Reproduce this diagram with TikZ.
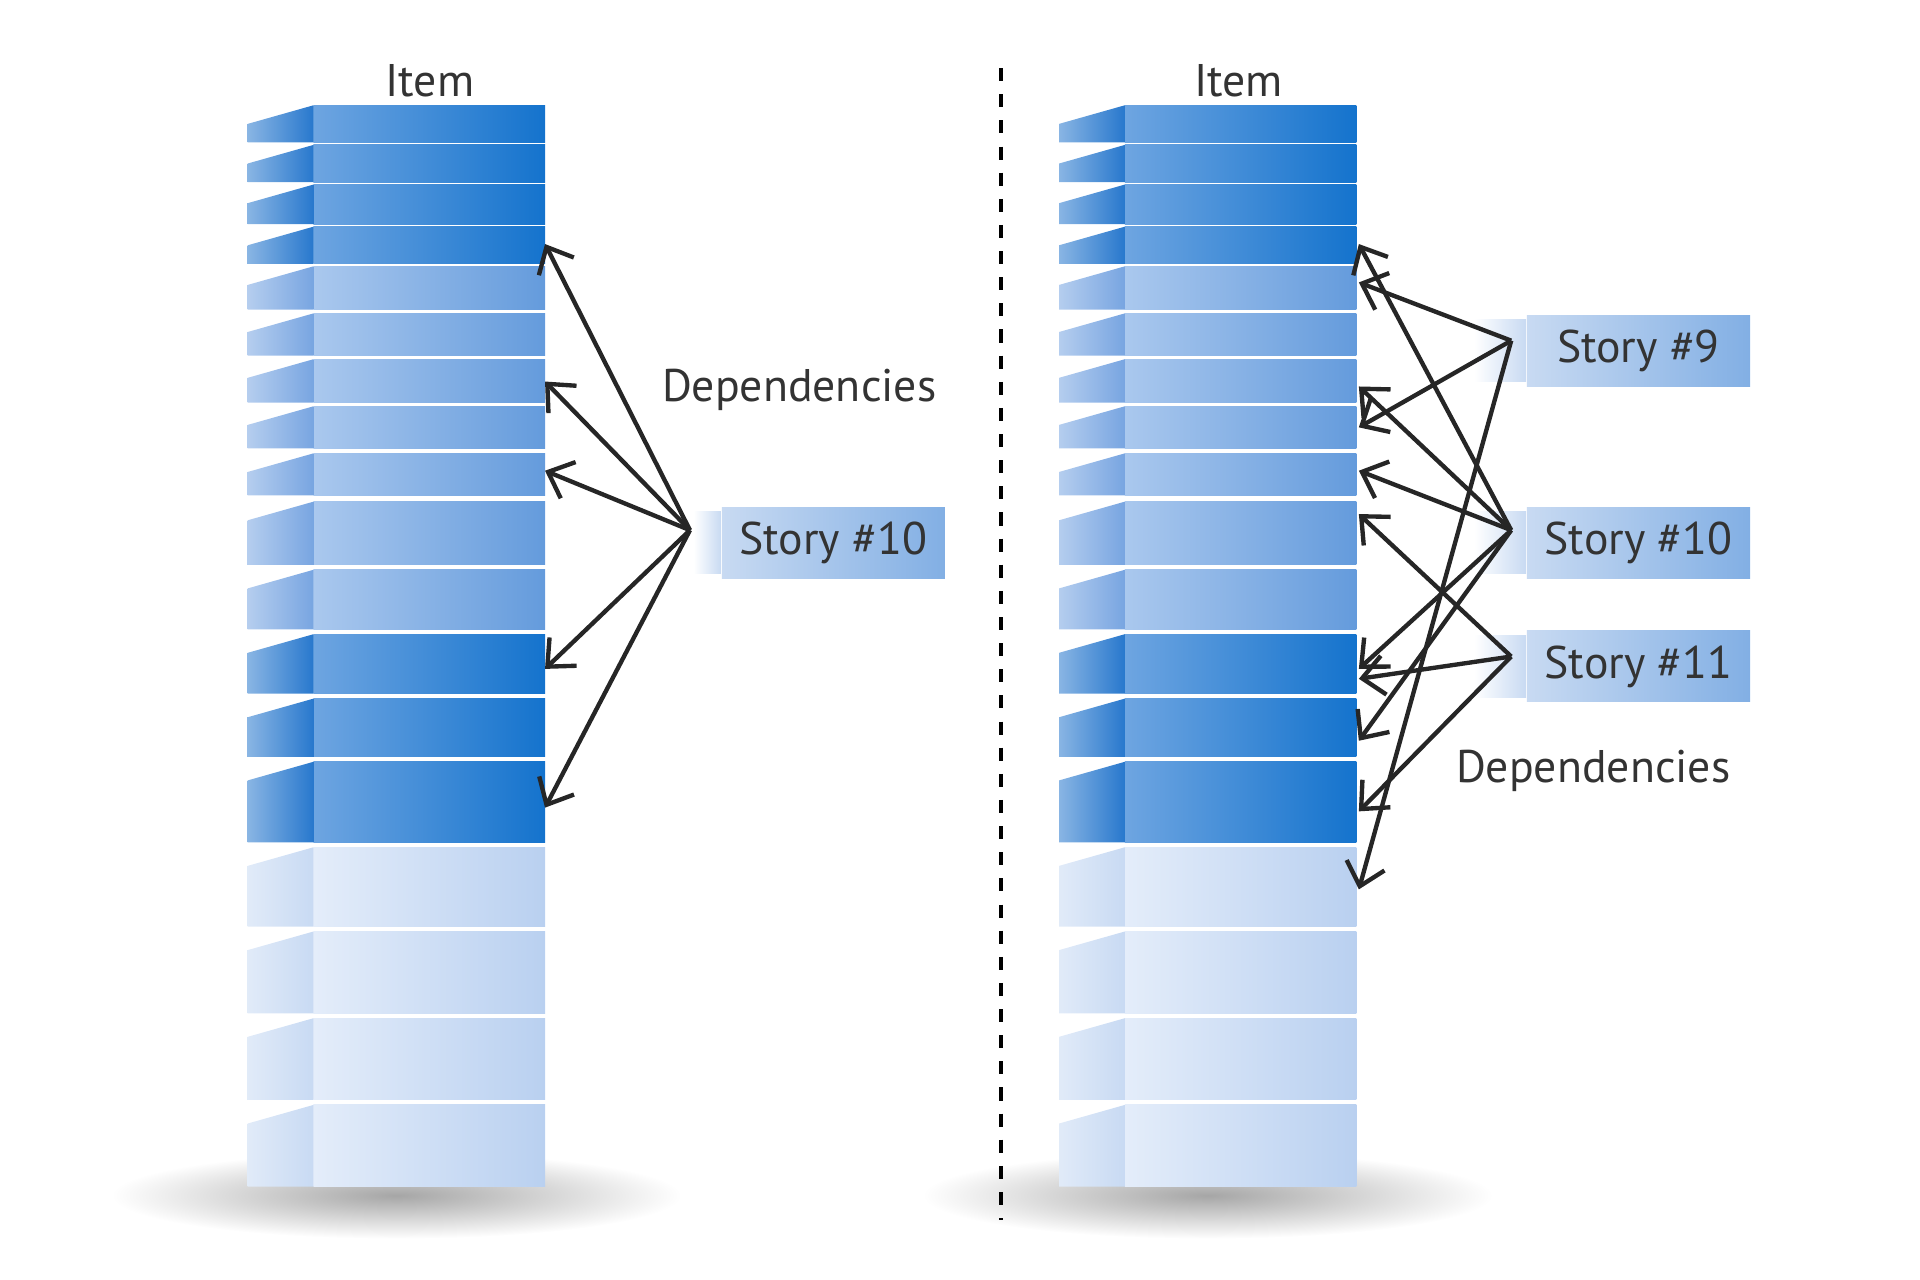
\documentclass[tikz,border=0pt]{standalone}
\usepackage{fontspec}
\setmainfont{PT Sans}
\usetikzlibrary{arrows.meta, positioning}
\definecolor{dkL}{RGB}{110,165,225}
\definecolor{dkR}{RGB}{20,115,205}
\definecolor{dkS}{RGB}{40,120,205}
\definecolor{mdL}{RGB}{170,200,238}
\definecolor{mdR}{RGB}{100,155,220}
\definecolor{mdS}{RGB}{120,165,225}
\definecolor{ltL}{RGB}{228,237,250}
\definecolor{ltR}{RGB}{185,208,240}
\definecolor{ltS}{RGB}{200,218,243}
\definecolor{storyL}{RGB}{200,218,242}
\definecolor{storyR}{RGB}{130,175,228}

\begin{document}
\begin{tikzpicture}[
    x=0.01cm, y=-0.01cm,
    label/.style={font=\fontsize{10.5}{13}\selectfont, text=black!80},
    story/.style={
        rectangle, minimum width=1.8cm, minimum height=0.5cm, anchor=west,
        left color=storyL, right color=storyR, draw=none,
        font=\fontsize{10.5}{13}\selectfont, text=black!80
    },
    dep/.style={-{Straight Barb[length=5pt,width=9pt]}, line width=1pt, draw=black!85}
]
\useasboundingbox (0,0) rectangle (1550,1033);

% Columns
\foreach \sx in {0,655}{
  \begin{scope}[xshift=\sx*0.01cm]
    \shade[inner color=black!35, outer color=white] (320,965) ellipse (230 and 35);
    \foreach \t/\b/\c in {85/115/dk, 117/147/dk, 149/181/dk, 183/213/dk, 215/250/md,
        253/287/md, 290/325/md, 328/362/md, 366/400/md, 405/456/md, 460/508/md,
        512/560/dk, 564/611/dk, 615/680/dk, 684/748/lt, 752/818/lt, 822/888/lt, 892/958/lt}{
      \shade[left color=\c L, right color=\c R] (253,\t) rectangle (440,\b);
      \shade[left color=\c S!55, right color=\c S] (200,\t+15) -- (253,\t) -- (253,\b) -- (200,\b) -- cycle;
    }
  \end{scope}
}

% Separator
\draw[dashed, line width=0.8pt] (808,55) -- (808,985);

% Left side
\node[label] (itemL) at (347,65) {Item};
\shade[left color=white, right color=storyL] (560,413) rectangle (582,463);
\node[story] (s10L) at (582,438) {Story \#10};
\coordinate (srcL) at (557,428);
\node[label, anchor=west] (depL) at (522,315) {Dependencies};
\foreach \y in {197,308,380,540,652}
  \draw[dep] (srcL) -- (440,\y);

% Right side
\node[label] (itemR) at (1000,65) {Item};
\foreach \n/\y in {9/283, 10/438, 11/538}{
  \shade[left color=white, right color=storyL] (1190,\y-25) rectangle (1232,\y+25);
  \node[story] (s\n) at (1232,\y) {Story \#\n};
}
\coordinate (src9) at (1220,275);
\coordinate (src10) at (1220,428);
\coordinate (src11) at (1220,530);
\node[label, anchor=west] (depR) at (1163,622) {Dependencies};
\foreach \y in {228,345,718}
  \draw[dep] (src9) -- (1097,\y);
\foreach \y in {197,312,380,540,598}
  \draw[dep] (src10) -- (1097,\y);
\foreach \y in {415,548,655}
  \draw[dep] (src11) -- (1097,\y);

\end{tikzpicture}
\end{document}
